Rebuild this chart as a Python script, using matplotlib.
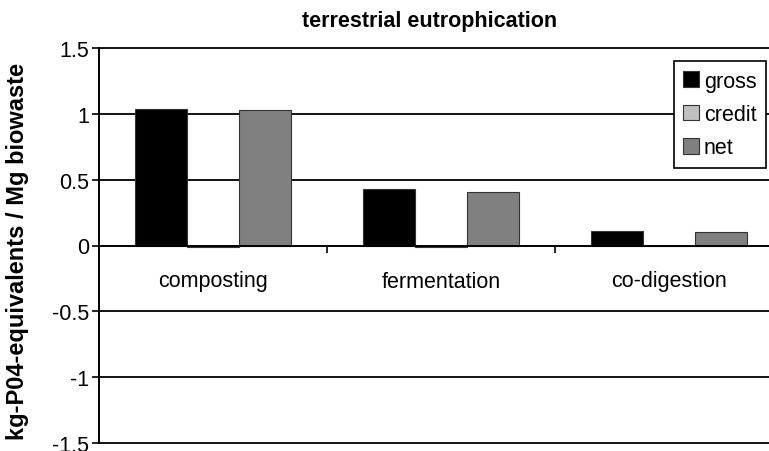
import matplotlib
matplotlib.use("Agg")
import matplotlib.pyplot as plt
import numpy as np

plt.rcParams['font.family'] = ['Liberation Sans', 'DejaVu Sans']

categories = ["composting", "fermentation", "co-digestion"]
gross = [1.04, 0.43, 0.11]
credit = [-0.015, -0.015, -0.005]
net = [1.03, 0.41, 0.10]
series_names = ["gross", "credit", "net"]
series_colors = ["#000000", "#c0c0c0", "#808080"]
y_ticks = [-1.5, -1, -0.5, 0, 0.5, 1, 1.5]
y_tick_labels = ["-1.5", "-1", "-0.5", "0", "0.5", "1", "1.5"]

W, H = 769, 452
fig = plt.figure(figsize=(W / 100, H / 100), dpi=100)
ax_left, ax_top, ax_bot = 99, 49, 444
ax_w = W - ax_left
ax = fig.add_axes([ax_left / W, (H - ax_bot) / H, ax_w / W, (ax_bot - ax_top) / H])

x = np.arange(len(categories))
cat_px = 228
bw = 0.228
for k, (vals, name, col) in enumerate(zip([gross, credit, net], series_names, series_colors)):
    ax.bar(x + (k - 1) * bw, vals, width=bw, color=col, edgecolor="#333333",
           linewidth=0.8, label=name, zorder=3)

ax.set_ylim(-1.5, 1.5)
ax.set_xlim(-0.5, -0.5 + ax_w / cat_px)
ax.set_yticks(y_ticks)
ax.set_yticklabels(y_tick_labels, fontsize=15.5)
for yv in y_ticks:
    if yv != 0:
        ax.axhline(yv, color="#000000", linewidth=1.3, zorder=1, clip_on=False)

for s in ["top", "right"]:
    ax.spines[s].set_visible(False)
ax.spines["left"].set_linewidth(1.4)
ax.spines["bottom"].set_position(("data", 0))
ax.spines["bottom"].set_linewidth(1.4)
ax.spines["bottom"].set_zorder(4)

ax.set_xticks(x)
ax.set_xticklabels(categories, fontsize=15.5)
ax.tick_params(axis="x", which="major", length=0, pad=18)
ax.set_xticks([0.5, 1.5], minor=True)
ax.tick_params(axis="x", which="minor", length=5, width=1.2, direction="out")
ax.tick_params(axis="y", length=5, width=1.2, direction="out", pad=2)

fig.text(18 / W, 1 - 251 / H, "kg-P04-equivalents / Mg biowaste", fontsize=17,
         fontweight="bold", rotation=90, ha="center", va="center")
fig.text(430 / W, 1 - 22 / H, "terrestrial eutrophication", fontsize=15.5,
         fontweight="bold", ha="center", va="center")

leg = ax.legend(loc="upper right",
                bbox_to_anchor=((766 - ax_left) / ax_w, 1 - (62 - ax_top) / (ax_bot - ax_top)),
                fontsize=15.5, frameon=True, fancybox=False, framealpha=1,
                edgecolor="#000000", handlelength=0.75, handleheight=0.75,
                handletextpad=0.2, borderpad=0.45, labelspacing=0.57, borderaxespad=0)
leg.get_frame().set_linewidth(1.2)
leg.set_zorder(5)

fig.savefig("out.png", dpi=100)
